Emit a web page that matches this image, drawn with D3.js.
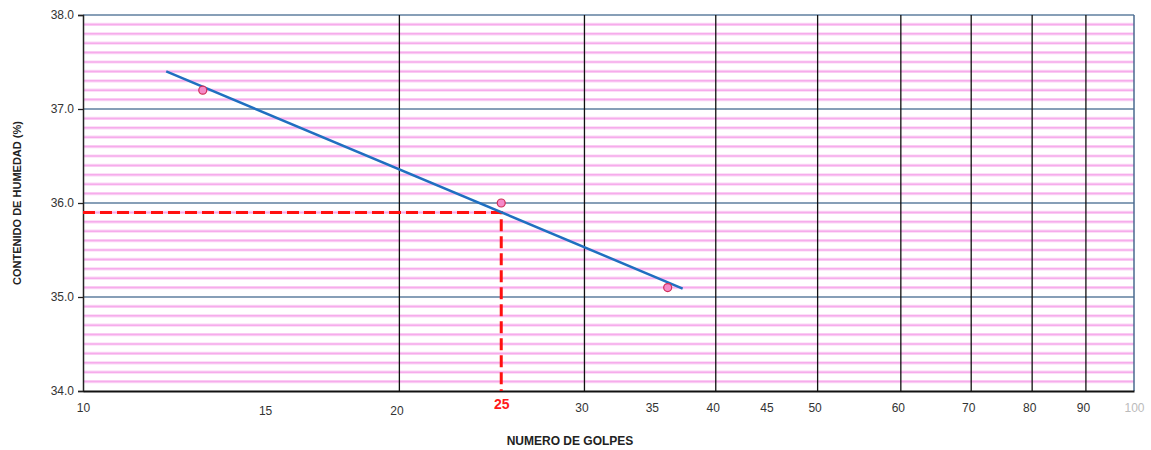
<!DOCTYPE html>
<html><head><meta charset="utf-8">
<script src="https://cdn.jsdelivr.net/npm/d3@7"></script>
<style>body{margin:0;background:#fff}svg{display:block}</style>
</head><body><svg id="c" width="1151" height="450"></svg>
<script>
const golpes = [13, 25, 36];
const humedad = [37.2, 36.0, 35.1];
const trendX = [12, 37.2];
const trendY = [37.40, 35.09];
const xTicks = [10, 15, 20, 25, 30, 35, 40, 45, 50, 60, 70, 80, 90, 100];
const xGrid = [20, 30, 40, 50, 60, 70, 80, 90];
const yTicks = [34, 35, 36, 37, 38];
const target = {golpes: 25, humedad: 35.9};

const svg = d3.select("#c");
const L = 83, R = 1134, T = 15, B = 391;
const x = d3.scaleLog().domain([10, 100]).range([L, R]);
const y = d3.scaleLinear().domain([34, 38]).range([B, T]);

// minor pink lines every 0.1
const minor = d3.range(341, 380).map(v => v / 10).filter(v => Math.abs(v - Math.round(v)) > 0.01);
const mg = svg.append("g");
mg.selectAll("line.h").data(minor).join("line").attr("class", "h")
  .attr("x1", L).attr("x2", R).attr("y1", d => y(d)).attr("y2", d => y(d))
  .attr("stroke", "#fbd6f6").attr("stroke-width", 3.2);
mg.selectAll("line.c").data(minor).join("line").attr("class", "c")
  .attr("x1", L).attr("x2", R).attr("y1", d => y(d)).attr("y2", d => y(d))
  .attr("stroke", "#f6ace b".replace(" ", "")).attr("stroke-width", 1.5);

// major horizontal
svg.append("g").selectAll("line").data([35, 36, 37, 38]).join("line")
  .attr("x1", L).attr("x2", R).attr("y1", d => y(d)).attr("y2", d => y(d))
  .attr("stroke", "#5f7f9f").attr("stroke-width", 1.5);

// vertical grid
svg.append("g").selectAll("line").data(xGrid).join("line")
  .attr("x1", d => x(d)).attr("x2", d => x(d)).attr("y1", T).attr("y2", B)
  .attr("stroke", "#111").attr("stroke-width", 1.3);

// borders
svg.append("line").attr("x1", R).attr("x2", R).attr("y1", T).attr("y2", B).attr("stroke", "#4a6a8f").attr("stroke-width", 1.5);

// y axis
const yAxis = svg.append("g").attr("transform", `translate(${L},0)`)
  .call(d3.axisLeft(y).tickValues(yTicks).tickFormat(d3.format(".1f")).tickSize(5).tickPadding(4));
yAxis.select(".domain").attr("stroke", "#222").attr("stroke-width", 1.5);
yAxis.selectAll(".tick line").attr("stroke", "#222").attr("stroke-width", 1.3);
yAxis.selectAll("text").attr("font-family", "Liberation Sans, Arial, sans-serif").attr("font-size", 12).attr("fill", "#333");

// x axis
const xAxis = svg.append("g").attr("transform", `translate(0,${B})`)
  .call(d3.axisBottom(x).tickValues(xTicks).tickFormat(d3.format("d")).tickSize(0).tickPadding(12));
xAxis.select(".domain").attr("stroke", "#111").attr("stroke-width", 2.2);
xAxis.selectAll("text").attr("font-family", "Liberation Sans, Arial, sans-serif").attr("font-size", 12).attr("fill", "#333")
  .attr("dx", d => d === 10 || d === 25 || d === 100 ? 0 : -3)
  .attr("y", d => (d === 15 || d === 20) ? 15 : 12);
xAxis.selectAll(".tick").filter(d => d === 25).select("text")
  .attr("fill", "#ff1a1a").attr("font-weight", "bold").attr("font-size", 14).attr("y", 8);
xAxis.selectAll(".tick").filter(d => d === 100).select("text").attr("fill", "#bbb");

// red dashed guides
svg.append("path")
  .attr("d", `M${L},${y(target.humedad)}H${x(target.golpes)}V${B}`)
  .attr("fill", "none").attr("stroke", "#ff1010").attr("stroke-width", 3)
  .attr("stroke-dasharray", "12,5");

// trend line
svg.append("line")
  .attr("x1", x(trendX[0])).attr("y1", y(trendY[0]))
  .attr("x2", x(trendX[1])).attr("y2", y(trendY[1]))
  .attr("stroke", "#1f6fc0").attr("stroke-width", 2.5);

// points
svg.append("g").selectAll("circle").data(golpes.map((g, i) => [g, humedad[i]])).join("circle")
  .attr("cx", d => x(d[0])).attr("cy", d => y(d[1])).attr("r", 4)
  .attr("fill", "#f58ac8").attr("stroke", "#d0305a").attr("stroke-width", 1.2);

// titles
svg.append("text").attr("x", 570).attr("y", 445).attr("text-anchor", "middle")
  .attr("font-family", "Liberation Sans, Arial, sans-serif").attr("font-weight", "bold").attr("font-size", 12).attr("fill", "#222")
  .text("NUMERO DE GOLPES");
svg.append("text").attr("transform", "translate(21,203) rotate(-90)").attr("text-anchor", "middle")
  .attr("font-family", "Liberation Sans, Arial, sans-serif").attr("font-weight", "bold").attr("font-size", 11).attr("fill", "#222")
  .text("CONTENIDO DE HUMEDAD (%)");
</script></body></html>
